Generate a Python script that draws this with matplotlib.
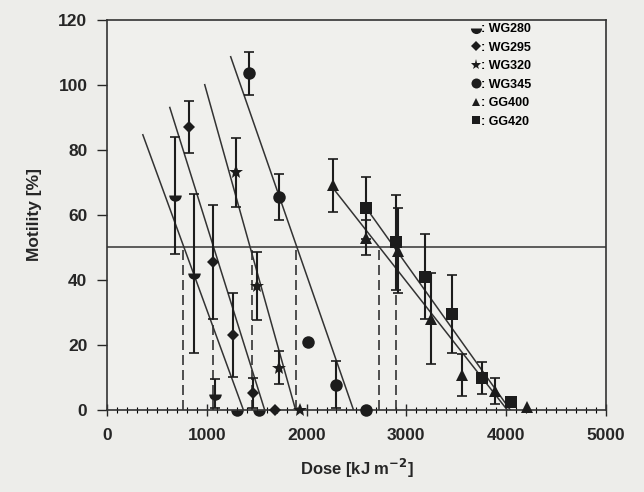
import numpy as np
import matplotlib.pyplot as plt
from matplotlib.lines import Line2D
from matplotlib.ticker import MultipleLocator

plt.rcParams['font.family'] = ['Liberation Sans', 'DejaVu Sans']
plt.rcParams['font.weight'] = 'bold'

# measured motility per filter
names = ["WG280", "WG295", "WG320", "WG345", "GG400", "GG420"]

dose_wg280 = [680, 870, 1080, 1300, 1520]
mot_wg280 = [66, 42, 5, 0, 0]
err_wg280 = [18, 24.5, 4.5, 0, 0]

dose_wg295 = [820, 1060, 1260, 1460, 1680]
mot_wg295 = [87, 45.5, 23, 5.2, 0]
err_wg295 = [8, 17.5, 13, 4.5, 0]

dose_wg320 = [1290, 1500, 1720, 1930]
mot_wg320 = [73, 38, 13, 0]
err_wg320 = [10.5, 10.5, 5, 0]

dose_wg345 = [1420, 1720, 2010, 2300, 2600]
mot_wg345 = [103.5, 65.5, 21, 7.7, 0]
err_wg345 = [6.7, 7, 0, 7.2, 0]

dose_gg400 = [2270, 2600, 2920, 3250, 3560, 3890, 4210]
mot_gg400 = [69, 53, 49, 28, 10.8, 5.8, 0.9]
err_gg400 = [8, 5.5, 13, 14, 6.5, 4, 0]

dose_gg420 = [2600, 2900, 3190, 3460, 3760, 4050]
mot_gg420 = [62, 51.5, 41, 29.5, 9.8, 2.5]
err_gg420 = [9.5, 14.5, 13, 12, 5, 0]

# regression lines: start dose, start motility, dose where it hits 0
fit_x0 = [360, 630, 980, 1240, 2270, 2600]
fit_y0 = [84.6, 93, 100, 108.6, 68, 62]
fit_x1 = [1367, 1580, 1890, 2470, 4010, 4040]

# doses giving 50% motility
ec50 = [760, 1060, 1450, 1890, 2730, 2900]

doses = [dose_wg280, dose_wg295, dose_wg320, dose_wg345, dose_gg400, dose_gg420]
mots = [mot_wg280, mot_wg295, mot_wg320, mot_wg345, mot_gg400, mot_gg420]
errs = [err_wg280, err_wg295, err_wg320, err_wg345, err_gg400, err_gg420]

markers = ['o', 'D', '*', 'o', '^', 's']
msizes = [9, 6.5, 10, 9, 8, 8]
ink = '#1c1c1c'
txt = '#262626'
bg = '#ededea'

fig = plt.figure(figsize=(6.44, 4.92), dpi=100, facecolor=bg)
ax = fig.add_axes([0.166, 0.167, 0.775, 0.793], facecolor='#f0f0ed')

for i in range(len(names)):
    ax.plot([fit_x0[i], fit_x1[i]], [fit_y0[i], 0], color='#333333', lw=1.1, zorder=2)

ax.axhline(50, color='#333333', lw=1.1, zorder=2)
ax.vlines(ec50, 0, 50, colors='#333333', linestyles=(0, (6, 3)), lw=1.2, zorder=2)

for i in range(len(names)):
    d = np.array(doses[i])
    m = np.array(mots[i])
    e = np.array(errs[i])
    keep = e > 0
    ax.errorbar(d[keep], m[keep], yerr=e[keep], fmt='none', ecolor=ink,
                elinewidth=1.5, capsize=3.5, capthick=1.2, zorder=3)
    if i == 0:
        ax.plot(d, m, linestyle='none', marker='o', ms=msizes[i],
                fillstyle='bottom', markerfacecolor=ink, markerfacecoloralt='none',
                markeredgecolor='none', zorder=4, clip_on=False)
    else:
        ax.plot(d, m, linestyle='none', marker=markers[i], ms=msizes[i],
                color=ink, markeredgewidth=0, zorder=4, clip_on=False)

ax.set_xlim(0, 5000)
ax.set_ylim(0, 120)
ax.xaxis.set_major_locator(MultipleLocator(1000))
ax.xaxis.set_minor_locator(MultipleLocator(100))
ax.yaxis.set_major_locator(MultipleLocator(20))
ax.tick_params(axis='x', which='major', direction='inout', length=8, width=1, pad=9,
               labelsize=12.5, colors=txt)
ax.tick_params(axis='x', which='minor', direction='inout', length=5, width=0.8)
ax.tick_params(axis='y', which='major', direction='out', length=7, width=1, pad=7,
               labelsize=12.5, colors=txt)
for s in ax.spines.values():
    s.set_color('#333333')
    s.set_linewidth(1.2)

ax.set_xlabel('Dose [kJ m$^{\\mathbf{-2}}$]', fontsize=12, fontweight='bold',
              labelpad=10, color=txt)
ax.set_ylabel('Motility [%]', fontsize=12.5, fontweight='bold', labelpad=12, color=txt)

handles = []
for i in range(len(names)):
    if i == 0:
        h = Line2D([], [], linestyle='none', marker='o', ms=8, fillstyle='bottom',
                   markerfacecolor=ink, markerfacecoloralt='none', markeredgecolor='none')
    else:
        h = Line2D([], [], linestyle='none', marker=markers[i], ms=msizes[i] * 0.8,
                   color=ink, markeredgewidth=0)
    handles.append(h)
ax.legend(handles, [': ' + n for n in names], loc='upper left',
          bbox_to_anchor=(0.725, 0.997), frameon=False, fontsize=9,
          handlelength=0.8, handletextpad=0.0, labelspacing=0.52,
          borderaxespad=0, borderpad=0.2)

fig.savefig('out.png', dpi=100, facecolor=bg)
